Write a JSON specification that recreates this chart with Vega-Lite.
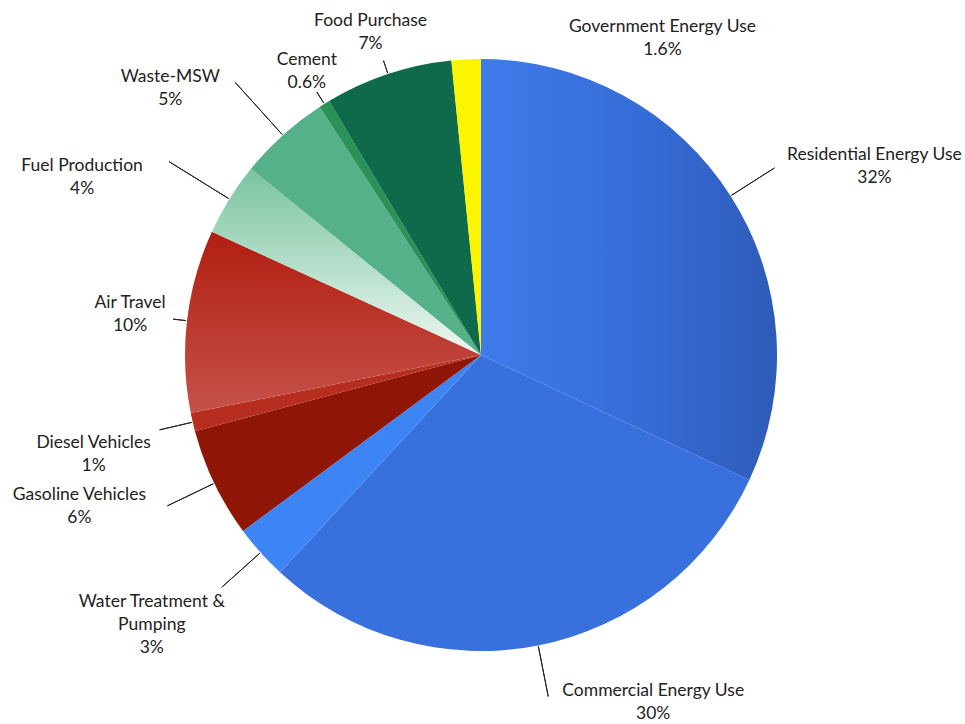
{
  "$schema": "https://vega.github.io/schema/vega-lite/v6.json",
  "width": 962,
  "height": 710,
  "autosize": {"type": "none"},
  "padding": {"left": 0, "top": 0, "right": 3, "bottom": 14},
  "background": "white",
  "view": {"stroke": null},
  "config": {"text": {"font": "Lato", "fontSize": 17.5, "lineHeight": 23, "fill": "#222222", "align": "center", "baseline": "middle", "lineBreak": "\n"}},
  "data": {
    "values": [
      {"category": "Residential Energy Use", "value": 32, "label": "Residential Energy Use\n32%"},
      {"category": "Commercial Energy Use", "value": 30, "label": "Commercial Energy Use\n30%"},
      {"category": "Water Treatment & Pumping", "value": 3, "label": "Water Treatment &\nPumping\n3%"},
      {"category": "Gasoline Vehicles", "value": 6, "label": "Gasoline Vehicles\n6%"},
      {"category": "Diesel Vehicles", "value": 1, "label": "Diesel Vehicles\n1%"},
      {"category": "Air Travel", "value": 10, "label": "Air Travel\n10%"},
      {"category": "Fuel Production", "value": 4, "label": "Fuel Production\n4%"},
      {"category": "Waste-MSW", "value": 5, "label": "Waste-MSW\n5%"},
      {"category": "Cement", "value": 0.6, "label": "Cement\n0.6%"},
      {"category": "Food Purchase", "value": 7, "label": "Food Purchase\n7%"},
      {"category": "Government Energy Use", "value": 1.6, "label": "Government Energy Use\n1.6%"}
    ]
  },
  "transform": [{"window": [{"op": "row_number", "as": "idx"}]}],
  "encoding": {
    "theta": {"field": "value", "type": "quantitative", "stack": true},
    "order": {"field": "idx", "type": "quantitative", "sort": "ascending"}
  },
  "layer": [
    {
      "mark": {"type": "arc", "radius": 296, "stroke": null},
      "encoding": {
        "color": {
          "field": "category",
          "type": "nominal",
          "legend": null,
          "scale": {
            "domain": ["Residential Energy Use", "Commercial Energy Use", "Water Treatment & Pumping", "Gasoline Vehicles", "Diesel Vehicles", "Air Travel", "Fuel Production", "Waste-MSW", "Cement", "Food Purchase", "Government Energy Use"],
            "range": ["#3569d3", "#3870de", "#3d85f5", "#8f1506", "#b72e20", "#b83328", "#a8d9c0", "#55b189", "#2a9256", "#0e6a4a", "#fbf500"]
          },
          "condition": [
            {"test": "datum.category === 'Residential Energy Use'", "value": {"gradient": "linear", "x1": 0, "y1": 0, "x2": 1, "y2": 0, "stops": [{"offset": 0, "color": "#3e7ceb"}, {"offset": 0.6, "color": "#356ad4"}, {"offset": 1, "color": "#2e5bb8"}]}},
            {"test": "datum.category === 'Air Travel'", "value": {"gradient": "linear", "x1": 0, "y1": 0, "x2": 0, "y2": 1, "stops": [{"offset": 0, "color": "#b01e10"}, {"offset": 1, "color": "#c6524a"}]}},
            {"test": "datum.category === 'Fuel Production'", "value": {"gradient": "linear", "x1": 0, "y1": 0, "x2": 0, "y2": 1, "stops": [{"offset": 0, "color": "#79c49f"}, {"offset": 1, "color": "#eef7f2"}]}}
          ]
        }
      }
    },
    {
      "mark": {"type": "arc", "radius": 348, "radius2": 297, "padAngle": 3.14, "fill": null, "filled": false, "stroke": "#222222", "strokeWidth": 1},
      "encoding": {
        "strokeOpacity": {"condition": {"test": "indexof(['Residential Energy Use','Commercial Energy Use','Water Treatment & Pumping','Gasoline Vehicles'], datum.category) >= 0", "value": 1}, "value": 0}
      }
    },
    {
      "mark": {"type": "arc", "radius": 330, "radius2": 297, "padAngle": 3.14, "fill": null, "filled": false, "stroke": "#222222", "strokeWidth": 1},
      "encoding": {
        "strokeOpacity": {"condition": {"test": "datum.category === 'Diesel Vehicles'", "value": 1}, "value": 0}
      }
    },
    {
      "mark": {"type": "arc", "radius": 310, "radius2": 297, "padAngle": 3.14, "fill": null, "filled": false, "stroke": "#222222", "strokeWidth": 1},
      "encoding": {
        "strokeOpacity": {"condition": {"test": "indexof(['Air Travel','Cement','Food Purchase'], datum.category) >= 0", "value": 1}, "value": 0}
      }
    },
    {
      "mark": {"type": "arc", "radius": 367, "radius2": 297, "padAngle": 3.14, "fill": null, "filled": false, "stroke": "#222222", "strokeWidth": 1},
      "encoding": {
        "strokeOpacity": {"condition": {"test": "indexof(['Fuel Production','Waste-MSW'], datum.category) >= 0", "value": 1}, "value": 0}
      }
    },
    {
      "mark": {"type": "text", "radius": 348, "dx": 100, "dy": -13},
      "encoding": {"text": {"condition": {"test": "datum.category === 'Residential Energy Use'", "field": "label", "type": "nominal"}, "value": ""}}
    },
    {
      "mark": {"type": "text", "radius": 348, "dx": 105, "dy": -5},
      "encoding": {"text": {"condition": {"test": "datum.category === 'Commercial Energy Use'", "field": "label", "type": "nominal"}, "value": ""}}
    },
    {
      "mark": {"type": "text", "radius": 348, "dx": -70, "dy": 15},
      "encoding": {"text": {"condition": {"test": "datum.category === 'Water Treatment & Pumping'", "field": "label", "type": "nominal"}, "value": ""}}
    },
    {
      "mark": {"type": "text", "radius": 348, "dx": -88, "dy": -11},
      "encoding": {"text": {"condition": {"test": "datum.category === 'Gasoline Vehicles'", "field": "label", "type": "nominal"}, "value": ""}}
    },
    {
      "mark": {"type": "text", "radius": 330, "dx": -66, "dy": 13},
      "encoding": {"text": {"condition": {"test": "datum.category === 'Diesel Vehicles'", "field": "label", "type": "nominal"}, "value": ""}}
    },
    {
      "mark": {"type": "text", "radius": 310, "dx": -43, "dy": -16},
      "encoding": {"text": {"condition": {"test": "datum.category === 'Air Travel'", "field": "label", "type": "nominal"}, "value": ""}}
    },
    {
      "mark": {"type": "text", "radius": 367, "dx": -87, "dy": 4},
      "encoding": {"text": {"condition": {"test": "datum.category === 'Fuel Production'", "field": "label", "type": "nominal"}, "value": ""}}
    },
    {
      "mark": {"type": "text", "radius": 367, "dx": -65, "dy": -5},
      "encoding": {"text": {"condition": {"test": "datum.category === 'Waste-MSW'", "field": "label", "type": "nominal"}, "value": ""}}
    },
    {
      "mark": {"type": "text", "radius": 310, "dx": -10, "dy": -32},
      "encoding": {"text": {"condition": {"test": "datum.category === 'Cement'", "field": "label", "type": "nominal"}, "value": ""}}
    },
    {
      "mark": {"type": "text", "radius": 310, "dx": -13, "dy": -40},
      "encoding": {"text": {"condition": {"test": "datum.category === 'Food Purchase'", "field": "label", "type": "nominal"}, "value": ""}}
    },
    {
      "mark": {"type": "text", "radius": 310, "dx": 197, "dy": -18},
      "encoding": {"text": {"condition": {"test": "datum.category === 'Government Energy Use'", "field": "label", "type": "nominal"}, "value": ""}}
    }
  ]
}
